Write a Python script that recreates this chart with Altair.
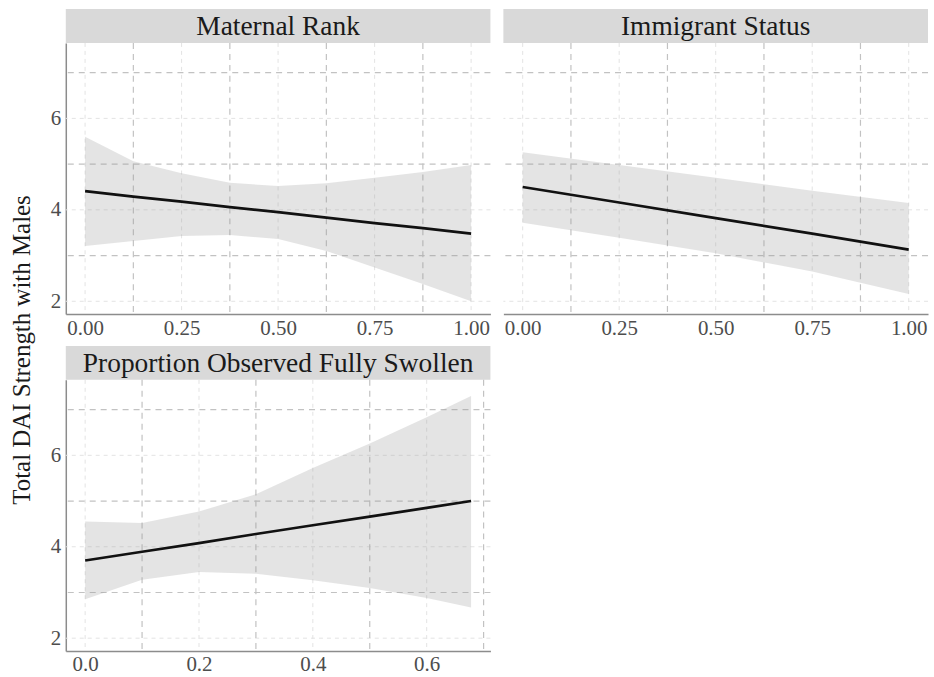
import altair as alt
import pandas as pd

# ---- data: fitted line and 95% band for each predictor ----
mat_x = [0.0, 0.125, 0.25, 0.375, 0.5, 0.625, 0.75, 0.875, 1.0]
mat_fit = [4.41, 4.29, 4.18, 4.06, 3.95, 3.83, 3.71, 3.60, 3.48]
mat_lo = [3.21, 3.32, 3.43, 3.45, 3.36, 3.10, 2.74, 2.38, 2.00]
mat_hi = [5.60, 5.06, 4.80, 4.59, 4.52, 4.58, 4.70, 4.83, 4.98]

imm_x = [0.0, 0.25, 0.5, 0.75, 1.0]
imm_fit = [4.50, 4.16, 3.82, 3.48, 3.13]
imm_lo = [3.72, 3.39, 3.05, 2.65, 2.16]
imm_hi = [5.26, 4.98, 4.70, 4.42, 4.15]

sw_x = [0.0, 0.1, 0.2, 0.3, 0.4, 0.5, 0.6, 0.678]
sw_fit = [3.70, 3.89, 4.08, 4.28, 4.47, 4.66, 4.85, 5.00]
sw_lo = [2.85, 3.28, 3.45, 3.41, 3.27, 3.10, 2.88, 2.67]
sw_hi = [4.55, 4.52, 4.77, 5.15, 5.72, 6.26, 6.83, 7.30]

panel_titles = ["Maternal Rank", "Immigrant Status", "Proportion Observed Fully Swollen"]
y_title = "Total DAI Strength with Males"

y_major = [2, 4, 6]
y_minor = [3, 5, 7]
unit_major = [0.0, 0.25, 0.5, 0.75, 1.0]
unit_minor = [0.125, 0.375, 0.625, 0.875]
sw_major = [0.0, 0.2, 0.4, 0.6]
sw_minor = [0.1, 0.3, 0.5, 0.7]

FONT = "Liberation Serif"
W, H, SH = 426, 272, 34
Y_DOMAIN = [1.72, 7.65]


def make_panel(title, xs, fit, lo, hi, x_domain, x_major, x_minor, x_format, show_y):
    xscale = alt.Scale(domain=x_domain, nice=False, zero=False)
    yscale = alt.Scale(domain=Y_DOMAIN, nice=False, zero=False)
    x_axis = alt.Axis(values=x_major, format=x_format, title=None, grid=False,
                      ticks=False, labelFont=FONT, labelFontSize=21,
                      labelColor="#4d4d4d", labelPadding=3, labelFlush=False,
                      labelOverlap=False, domainColor="#8c8c8c", domainWidth=1.5)
    if show_y:
        y_axis = alt.Axis(values=y_major, title=None, grid=False, ticks=False,
                          labelFont=FONT, labelFontSize=21, labelColor="#4d4d4d",
                          labelPadding=5, labelFlush=False, labelOverlap=False,
                          domainColor="#8c8c8c", domainWidth=1.5)
    else:
        y_axis = alt.Axis(values=y_major, title=None, grid=False, ticks=False,
                          labels=False, domain=False)
    X = alt.X("x:Q", scale=xscale, axis=x_axis)
    Y = alt.Y("y:Q", scale=yscale, axis=y_axis)

    # light dashed grid at the labelled breaks, darker dashed grid between them
    vmaj = alt.Chart(pd.DataFrame({"x": x_major})).mark_rule(
        color="#e3e3e3", strokeWidth=1, strokeDash=[4, 4]).encode(x=X)
    hmaj = alt.Chart(pd.DataFrame({"y": y_major})).mark_rule(
        color="#e3e3e3", strokeWidth=1, strokeDash=[4, 4]).encode(y=Y)
    vmin = alt.Chart(pd.DataFrame({"x": x_minor})).mark_rule(
        color="#c2c2c2", strokeWidth=1.2, strokeDash=[6, 5]).encode(x=X)
    hmin = alt.Chart(pd.DataFrame({"y": y_minor})).mark_rule(
        color="#c2c2c2", strokeWidth=1.2, strokeDash=[6, 5]).encode(y=Y)

    band = alt.Chart(pd.DataFrame({"x": xs, "y": lo, "y2": hi})).mark_area(
        color="#9a9a9a", opacity=0.27).encode(x=X, y=Y, y2="y2:Q")
    line = alt.Chart(pd.DataFrame({"x": xs, "y": fit})).mark_line(
        color="#111111", strokeWidth=2.7).encode(x=X, y=Y)

    plot = alt.layer(vmaj, hmaj, vmin, hmin, band, line).properties(width=W, height=H)

    tdf = pd.DataFrame({"t": [title]})
    strip = alt.layer(
        alt.Chart(tdf).mark_rect(color="#d9d9d9").encode(
            x=alt.value(0), x2=alt.value(W), y=alt.value(0), y2=alt.value(SH)),
        alt.Chart(tdf).mark_text(font=FONT, fontSize=27.5, color="#1a1a1a",
                                 baseline="middle").encode(
            text="t:N", x=alt.value(W / 2), y=alt.value(SH / 2 + 1)),
    ).properties(width=W, height=SH)

    return alt.vconcat(strip, plot, spacing=0, bounds="flush")


p1 = make_panel(panel_titles[0], mat_x, mat_fit, mat_lo, mat_hi,
                [-0.05, 1.05], unit_major, unit_minor, ".2f", True)
p2 = make_panel(panel_titles[1], imm_x, imm_fit, imm_lo, imm_hi,
                [-0.05, 1.05], unit_major, unit_minor, ".2f", False)
p3 = make_panel(panel_titles[2], sw_x, sw_fit, sw_lo, sw_hi,
                [-0.034, 0.712], sw_major, sw_minor, ".1f", True)

ytitle = alt.Chart(pd.DataFrame({"t": [y_title]})).mark_text(
    angle=270, font=FONT, fontSize=25, color="#1a1a1a", baseline="middle").encode(
    text="t:N", x=alt.value(17), y=alt.value(342)).properties(width=26, height=642)

grid = alt.vconcat(alt.hconcat(p1, p2, spacing=11), p3, spacing=8)

chart = alt.hconcat(ytitle, grid, spacing=15).properties(
    padding={"left": 5, "top": 8, "right": 5, "bottom": 5}
).configure_view(strokeWidth=0)

chart.save("out.html", embed_options={"renderer": "svg", "actions": False})
